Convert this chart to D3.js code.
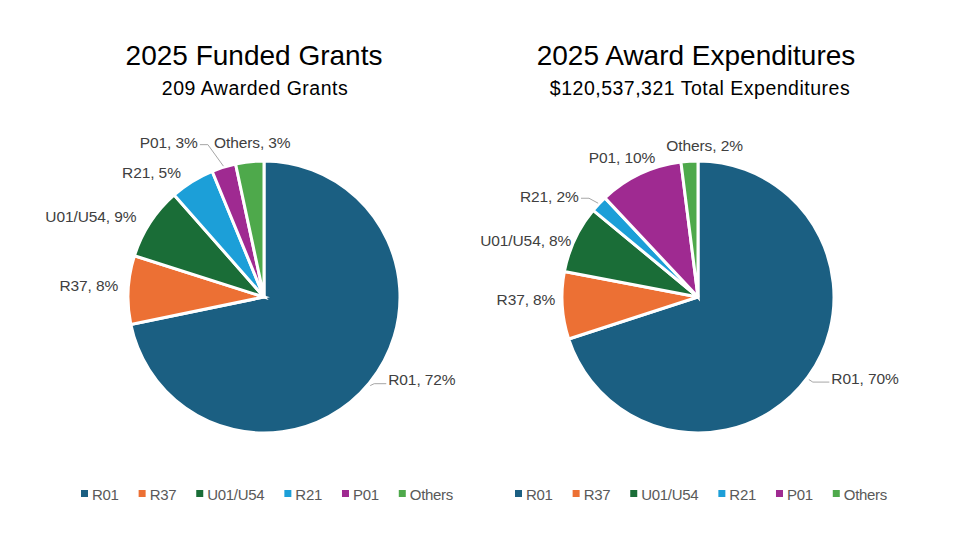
<!DOCTYPE html>
<html>
<head>
<meta charset="utf-8">
<script src="https://cdn.jsdelivr.net/npm/d3@7"></script>
<style>
  body { margin: 0; background: #fff; }
  svg { display: block; font-family: "Liberation Sans", Arial, sans-serif; }
</style>
</head>
<body>
<svg width="970" height="559"></svg>
<script>
const categories = ["R01", "R37", "U01/U54", "R21", "P01", "Others"];
const colors = ["#1b5f82", "#ec7034", "#1a6d37", "#1c9fd8", "#9f2a91", "#4ea94b"];

// grant counts (209 total) and expenditure shares (%)
const grantCounts = [150, 17, 18, 11, 6, 7];
const grantLabels = ["72%", "8%", "9%", "5%", "3%", "3%"];
const expendShares = [70, 8, 8, 2, 10, 2];
const expendLabels = ["70%", "8%", "8%", "2%", "10%", "2%"];

const charts = [
  {
    cx: 264, titleX: 254, subX: 255,
    title: "2025 Funded Grants", subtitle: "209 Awarded Grants",
    values: grantCounts, labels: grantLabels,
    nudge: [[8, -12], [4, -4], [-2, 2], [-4, 3], [-22, -11], [4, -5]],
    leader: [true, false, false, false, true, false]
  },
  {
    cx: 698, titleX: 696, subX: 700,
    title: "2025 Award Expenditures", subtitle: "$120,537,321 Total Expenditures",
    values: expendShares, labels: expendLabels,
    nudge: [[12, -7], [7, -7], [9, 7], [-10, 2], [21, -4], [16, -2]],
    leader: [true, false, false, true, false, false]
  }
];

const width = 970, height = 559;
const svg = d3.select("svg");
const cy = 297, R = 136, rLabel = 150;

const pie = d3.pie().sort(null).value(d => d.v);
const arc = d3.arc().innerRadius(0).outerRadius(R);

charts.forEach(c => {
  const g = svg.append("g");

  g.append("text").attr("x", c.titleX).attr("y", 64.5)
    .attr("text-anchor", "middle").attr("font-size", 28).attr("fill", "#000")
    .text(c.title);
  g.append("text").attr("x", c.subX).attr("y", 95)
    .attr("text-anchor", "middle").attr("font-size", 19.5).attr("fill", "#000")
    .attr("letter-spacing", 0.5)
    .text(c.subtitle);

  const data = pie(categories.map((k, i) => ({ k, v: c.values[i], i })));
  const pg = g.append("g").attr("transform", `translate(${c.cx},${cy})`);

  pg.selectAll("path").data(data).join("path")
    .attr("d", arc)
    .attr("fill", d => colors[d.data.i])
    .attr("stroke", "#fff").attr("stroke-width", 3).attr("stroke-linejoin", "miter");

  data.forEach(d => {
    const a = (d.startAngle + d.endAngle) / 2;
    const s = Math.sin(a), co = Math.cos(a);
    const [nx, ny] = c.nudge[d.data.i];
    const lx = rLabel * s + nx, ly = -rLabel * co + ny;
    const anchor = Math.abs(s) < 0.2 ? "middle" : (s > 0 ? "start" : "end");
    const txt = `${d.data.k}, ${c.labels[d.data.i]}`;
    const t = pg.append("text").attr("x", lx).attr("y", ly)
      .attr("dy", "0.35em").attr("text-anchor", anchor)
      .attr("font-size", 15.5).attr("fill", "#404040").attr("letter-spacing", -0.1)
      .text(txt);

    if (c.leader[d.data.i]) {
      const bb = t.node().getBBox();
      const ex = (R + 1) * s, ey = -(R + 1) * co;
      let pts;
      if (s > 0) {
        pts = [[ex, ey + 2], [ex + 4, bb.y + bb.height / 2 + 4], [bb.x - 2, bb.y + bb.height / 2 + 4]];
      } else {
        const tx = bb.x + bb.width + 2, ty = bb.y + bb.height / 2 + 2;
        pts = [[tx, ty], [tx + 8, ty], [ex, ey]];
      }
      pg.insert("path", "text")
        .attr("d", d3.line()(pts))
        .attr("fill", "none").attr("stroke", "#a6a6a6").attr("stroke-width", 1);
    }
  });

  // legend
  const lg = g.append("g");
  let x = 0;
  categories.forEach((k, i) => {
    lg.append("rect").attr("x", x).attr("y", 490).attr("width", 7).attr("height", 7)
      .attr("fill", colors[i]);
    const t = lg.append("text").attr("x", x + 11).attr("y", 499.5)
      .attr("font-size", 15).attr("fill", "#595959").attr("letter-spacing", -0.3).text(k);
    x += 11 + t.node().getComputedTextLength() + 20;
  });
  const lw = x - 20;
  lg.attr("transform", `translate(${c.cx + 3 - lw / 2},0)`);
});
</script>
</body>
</html>
